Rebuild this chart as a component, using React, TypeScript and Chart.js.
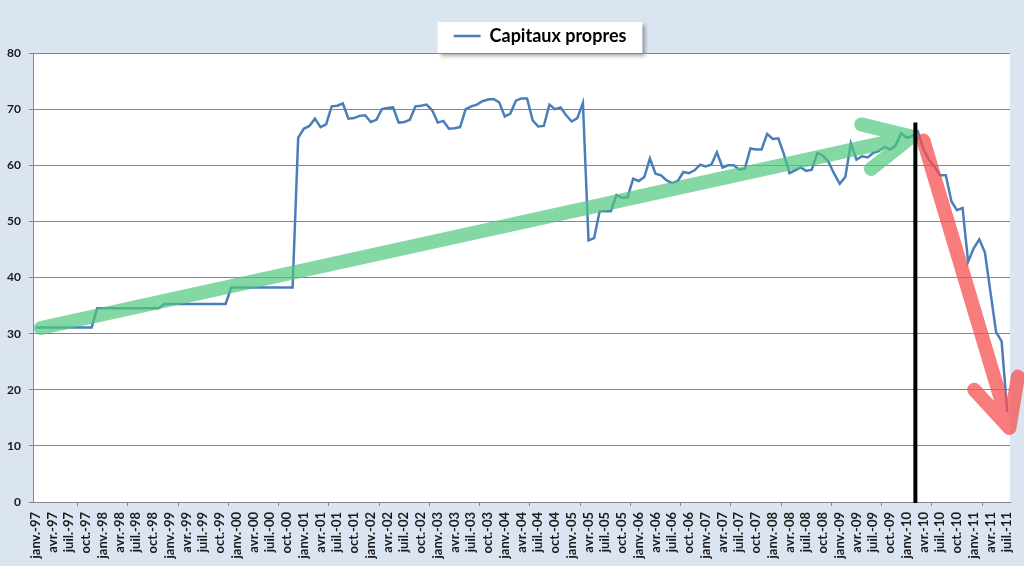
import { useEffect, useRef } from 'react'
import { Chart, registerables } from 'chart.js'

Chart.register(...registerables)

const FONT = 'Lato, "Open Sans", sans-serif'
const GRID = '#868686'
const TEXT = '#1a1a1a'

const monthNames = ['janv.', 'févr.', 'mars', 'avr.', 'mai', 'juin', 'juil.', 'août', 'sept.', 'oct.', 'nov.', 'déc.']
const years = ['97', '98', '99', '00', '01', '02', '03', '04', '05', '06', '07', '08', '09', '10', '11']
// janv.-97 .. juil.-11, one value per month
const months = years.flatMap((y) => monthNames.map((m) => `${m}-${y}`)).slice(0, 175)

const capitauxPropres = [
  // 1997
  31.1, 31.1, 31.1, 31.1, 31.1, 31.1, 31.1, 31.1, 31.1, 31.1, 31.1, 34.5,
  // 1998
  34.5, 34.5, 34.5, 34.5, 34.5, 34.5, 34.5, 34.5, 34.5, 34.5, 34.5, 35.3,
  // 1999
  35.3, 35.3, 35.3, 35.3, 35.3, 35.3, 35.3, 35.3, 35.3, 35.3, 35.3, 38.2,
  // 2000
  38.2, 38.2, 38.2, 38.2, 38.2, 38.2, 38.2, 38.2, 38.2, 38.2, 38.2, 64.9,
  // 2001
  66.5, 67.0, 68.3, 66.8, 67.3, 70.5, 70.6, 71.0, 68.3, 68.4, 68.8, 68.9,
  // 2002
  67.7, 68.1, 70.0, 70.2, 70.3, 67.6, 67.7, 68.1, 70.5, 70.6, 70.8, 69.8,
  // 2003
  67.6, 67.9, 66.5, 66.6, 66.8, 70.0, 70.5, 70.8, 71.4, 71.7, 71.8, 71.2,
  // 2004
  68.7, 69.2, 71.5, 71.9, 71.9, 68.0, 66.9, 67.0, 70.8, 70.0, 70.3, 68.9,
  // 2005
  67.8, 68.4, 71.1, 46.6, 47.0, 51.8, 51.8, 51.8, 54.7, 54.2, 54.3, 57.6,
  // 2006
  57.2, 57.9, 61.2, 58.5, 58.2, 57.3, 56.8, 57.2, 58.8, 58.6, 59.1, 60.1,
  // 2007
  59.8, 60.1, 62.3, 59.6, 60.0, 60.0, 59.2, 59.4, 63.0, 62.8, 62.8, 65.6,
  // 2008
  64.7, 64.8, 62.0, 58.6, 59.1, 59.6, 59.0, 59.2, 62.2, 61.7, 60.6, 58.5,
  // 2009
  56.7, 57.9, 63.9, 61.0, 61.6, 61.4, 62.2, 62.5, 63.3, 62.8, 63.5, 65.7,
  // 2010
  64.9, 65.2, 66.0, 62.8, 61.0, 59.7, 58.2, 58.2, 53.6, 52.0, 52.4, 42.8,
  // 2011
  45.2, 46.8, 44.5, 37.4, 30.3, 28.6, 16.1,
]

// hand-drawn marks on the original, as [month index, value]
const greenArrow = { from: [0.9, 31.0], to: [156.9, 65.1], color: 'rgba(80, 200, 125, 0.7)' }
const redArrow = { from: [159.0, 64.4], to: [174.4, 13.2], color: 'rgba(245, 80, 80, 0.75)' }
const markerLine = { at: 157.55, top: 67.6, bottom: 0 }

function drawArrow(ctx: CanvasRenderingContext2D, x0: number, y0: number, x1: number, y1: number, color: string) {
  const angle = Math.atan2(y1 - y0, x1 - x0)
  const head = 52
  const spread = (26 * Math.PI) / 180
  ctx.save()
  ctx.strokeStyle = color
  ctx.lineWidth = 14
  ctx.lineCap = 'round'
  ctx.lineJoin = 'round'
  ctx.beginPath()
  ctx.moveTo(x0, y0)
  ctx.lineTo(x1, y1)
  ctx.moveTo(x1 - head * Math.cos(angle - spread), y1 - head * Math.sin(angle - spread))
  ctx.lineTo(x1, y1)
  ctx.lineTo(x1 - head * Math.cos(angle + spread), y1 - head * Math.sin(angle + spread))
  ctx.stroke()
  ctx.restore()
}

const backdrop = {
  id: 'backdrop',
  afterLayout(chart: any) {
    // legend sits a bit right of centre in the original
    const legend = chart.legend
    legend.left += 35
    legend.right += 35
    legend.top += 2
    legend.bottom += 2
  },
  beforeDraw(chart: any) {
    const { ctx, chartArea } = chart
    ctx.save()
    ctx.fillStyle = '#ffffff'
    ctx.fillRect(chartArea.left, chartArea.top, chartArea.right - chartArea.left, chartArea.bottom - chartArea.top)
    const hb = chart.legend.legendHitBoxes[0]
    if (hb) {
      ctx.shadowColor = 'rgba(0, 0, 0, 0.35)'
      ctx.shadowBlur = 4
      ctx.shadowOffsetX = 3
      ctx.shadowOffsetY = 3
      ctx.fillRect(hb.left - 16, chartArea.top - 31, hb.width + 32, 31)
    }
    ctx.restore()
  },
}

const marks = {
  id: 'marks',
  afterDatasetsDraw(chart: any) {
    const { ctx, scales } = chart
    const px = (v: number) => scales.x.getPixelForValue(v)
    const py = (v: number) => scales.y.getPixelForValue(v)
    for (const a of [greenArrow, redArrow]) {
      drawArrow(ctx, px(a.from[0]), py(a.from[1]), px(a.to[0]), py(a.to[1]), a.color)
    }
    ctx.save()
    ctx.strokeStyle = '#000000'
    ctx.lineWidth = 4
    ctx.beginPath()
    ctx.moveTo(px(markerLine.at), py(markerLine.top))
    ctx.lineTo(px(markerLine.at), py(markerLine.bottom) + 1)
    ctx.stroke()
    ctx.restore()
  },
}

export default function App() {
  const canvasRef = useRef<HTMLCanvasElement>(null)

  useEffect(() => {
    if (!canvasRef.current) return
    const chart = new Chart(canvasRef.current, {
      type: 'line',
      data: {
        labels: months,
        datasets: [
          {
            label: 'Capitaux propres',
            data: capitauxPropres,
            borderColor: '#4a7ebb',
            backgroundColor: '#4a7ebb',
            borderWidth: 2.5,
            pointRadius: 0,
            tension: 0,
            fill: false,
          },
        ],
      },
      options: {
        animation: false,
        responsive: true,
        maintainAspectRatio: false,
        layout: { padding: { top: 15, right: 14, left: 0, bottom: 0 } },
        scales: {
          x: {
            type: 'category',
            offset: true,
            afterFit: (scale: any) => {
              scale.height = 64
              // rotated labels must not eat into the plot width
              scale.paddingLeft = 0
              scale.paddingRight = 0
            },
            border: { display: true, color: GRID, width: 1 },
            grid: {
              offset: true,
              drawOnChartArea: false,
              drawTicks: true,
              tickLength: 4,
              color: (ctx: any) => (ctx.index % 3 === 0 ? GRID : 'rgba(0,0,0,0)'),
            },
            ticks: {
              autoSkip: false,
              minRotation: 90,
              maxRotation: 90,
              padding: 6,
              color: TEXT,
              font: { family: FONT, size: 13, weight: 'bold' },
              callback: (_value: any, index: number) => (index % 3 === 0 ? months[index] : null),
            },
          },
          y: {
            min: 0,
            max: 80,
            afterFit: (scale: any) => {
              scale.width = 33
            },
            border: { display: true, color: GRID, width: 1 },
            grid: { color: GRID, tickLength: 4 },
            ticks: {
              stepSize: 10,
              padding: 8,
              color: TEXT,
              font: { family: FONT, size: 12, weight: 'bold' },
            },
          },
        },
        plugins: {
          tooltip: { enabled: false },
          legend: {
            position: 'top',
            labels: {
              usePointStyle: true,
              pointStyle: 'line',
              pointStyleWidth: 27,
              color: '#000000',
              padding: 10,
              font: { family: FONT, size: 18, weight: 'bold' },
            },
          },
        },
      },
      plugins: [backdrop, marks],
    } as any)

    return () => {
      chart.destroy()
    }
  }, [])

  return (
    <div
      style={{
        position: 'fixed',
        left: 0,
        top: 0,
        width: 1024,
        height: 566,
        background: '#dbe5f1',
      }}
    >
      <canvas ref={canvasRef} />
    </div>
  )
}
